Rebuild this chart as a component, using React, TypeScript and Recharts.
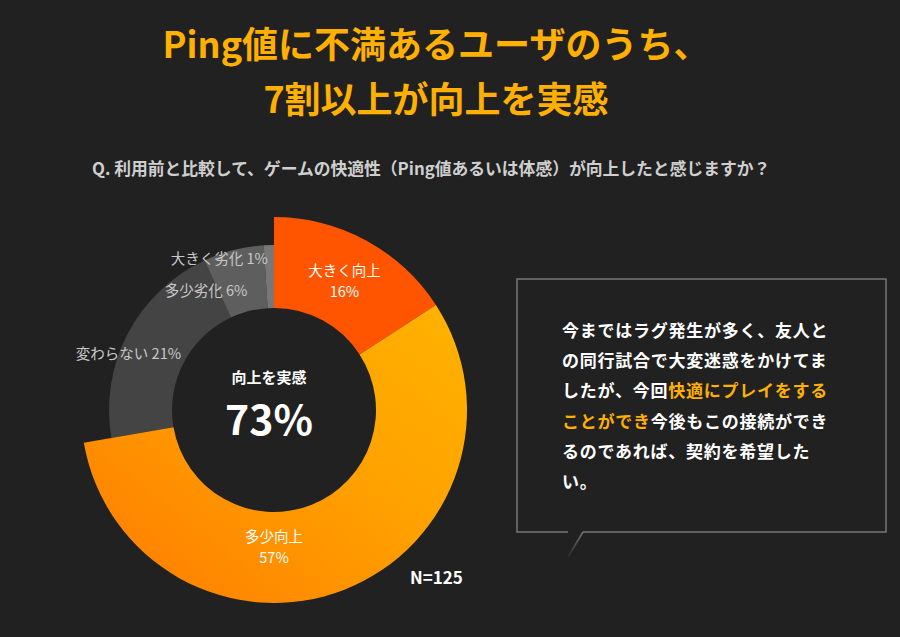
import React from 'react';
import { PieChart, Pie, Cell } from 'recharts';

// survey answers, clockwise from 12 o'clock
const categories = ['大きく向上', '多少向上', '変わらない', '多少劣化', '大きく劣化'];
const shares = [16, 57, 21, 6, 1];
const improved = [true, true, false, false, false];
const upColors = ['#ff5500', 'url(#upGrad)'];
const downColors = ['#444444', '#5e5e5e', '#777777'];

const titleLines = ['Ping値に不満あるユーザのうち、', '7割以上が向上を実感'];
const question = 'Q. 利用前と比較して、ゲームの快適性（Ping値あるいは体感）が向上したと感じますか？';
const improvedTotal = 73;
const sampleSize = 125;

const commentBefore = '今まではラグ発生が多く、友人との同行試合で大変迷惑をかけてましたが、今回';
const commentHighlight = '快適にプレイをすることができ';
const commentAfter = '今後もこの接続ができるのであれば、契約を希望したい。';

const data = categories.map((name, i) => ({ name, value: shares[i], up: improved[i] }));

const FONT = "'Noto Sans CJK JP', 'Noto Sans', sans-serif";
const RADIAN = Math.PI / 180;
const CX = 269;
const CY = 405;

const upLabel = (props: any) => {
  const { cx, cy, midAngle, innerRadius, outerRadius, index } = props;
  if (!improved[index]) return null;
  let r = (innerRadius + outerRadius) / 2;
  let ang = midAngle;
  // the big slice carries its label straight below the centre
  if (index === 1) {
    ang = -90;
    r = 136;
  }
  const x = cx + r * Math.cos(-ang * RADIAN);
  const y = cy + r * Math.sin(-ang * RADIAN);
  return (
    <text x={x} y={y} textAnchor="middle" fill="#fff" fontSize={14.5} fontFamily={FONT}>
      <tspan x={x} dy={-4}>{categories[index]}</tspan>
      <tspan x={x} dy={21}>{shares[index]}%</tspan>
    </text>
  );
};

// where the grey labels end: clockwise angle from 12 o'clock and radius
const downSpots: Record<number, [number, number]> = { 2: [300, 105], 3: [348, 118], 4: [358.4, 147] };

const downLabel = (props: any) => {
  const { cx, cy, index } = props;
  if (improved[index]) return null;
  const [a, r] = downSpots[index];
  const x = cx + r * Math.sin(a * RADIAN);
  const y = cy - r * Math.cos(a * RADIAN);
  return (
    <text x={x - 2} y={y + 1} textAnchor="end" fill="#c8c8c8" fontSize={14.5} fontFamily={FONT}>
      {categories[index]} {shares[index]}%
    </text>
  );
};

export default function App() {
  let upIdx = 0;
  let downIdx = 0;
  return (
    <div
      style={{
        position: 'fixed',
        left: 0,
        top: 0,
        width: 900,
        height: 637,
        background: '#212121',
        fontFamily: FONT,
        overflow: 'hidden',
      }}
    >
      {titleLines.map((t, i) => (
        <div
          key={t}
          style={{
            position: 'absolute',
            left: 0,
            width: 872,
            top: 22 + i * 55,
            textAlign: 'center',
            color: '#ffb000',
            fontSize: 36,
            fontWeight: 700,
            lineHeight: '40px',
          }}
        >
          {t}
        </div>
      ))}
      <div
        style={{
          position: 'absolute',
          left: 92,
          top: 156,
          color: '#cfcfcf',
          fontSize: 16.8,
          fontWeight: 700,
          lineHeight: '24px',
          whiteSpace: 'nowrap',
        }}
      >
        {question}
      </div>

      <div style={{ position: 'absolute', left: 0, top: 0 }}>
        <PieChart width={900} height={637}>
          <defs>
            <linearGradient id="upGrad" x1="1" y1="0" x2="0" y2="1">
              <stop offset="0%" stopColor="#ffb300" />
              <stop offset="45%" stopColor="#ffa000" />
              <stop offset="100%" stopColor="#ff7a00" />
            </linearGradient>
            <linearGradient id="tailGrad" x1="0" y1="0" x2="0" y2="1">
              <stop offset="0%" stopColor="#777" />
              <stop offset="100%" stopColor="#777" stopOpacity={0.1} />
            </linearGradient>
          </defs>
          <Pie
            data={data}
            dataKey="value"
            cx={CX}
            cy={CY}
            innerRadius={102}
            outerRadius={165}
            startAngle={90}
            endAngle={-270}
            stroke="none"
            label={downLabel}
            labelLine={false}
            isAnimationActive={false}
          >
            {data.map((d) => (
              <Cell key={d.name} fill={d.up ? 'transparent' : downColors[downIdx++]} />
            ))}
          </Pie>
          <Pie
            data={data}
            dataKey="value"
            cx={CX}
            cy={CY}
            innerRadius={102}
            outerRadius={193}
            startAngle={90}
            endAngle={-270}
            stroke="none"
            label={upLabel}
            labelLine={false}
            isAnimationActive={false}
          >
            {data.map((d) => (
              <Cell key={d.name} fill={d.up ? upColors[upIdx++] : 'transparent'} />
            ))}
          </Pie>
          <text x={CX} y={CY - 22} textAnchor="middle" fill="#fff" fontSize={15} fontWeight={700} fontFamily={FONT}>
            向上を実感
          </text>
          <text x={CX} y={CY + 30} textAnchor="middle" fill="#fff" fontSize={41} fontWeight={700} fontFamily={FONT}>
            {improvedTotal}%
          </text>
          <text x={410} y={584} fill="#fff" fontSize={17} fontWeight={700} fontFamily={FONT}>
            N={sampleSize}
          </text>
          {/* speech bubble */}
          <path
            d="M583 532 L886 532 L886 279 L517 279 L517 532 L568 532"
            fill="none"
            stroke="#777"
            strokeWidth={1.5}
          />
          <path d="M583 532 L568 557" stroke="url(#tailGrad)" strokeWidth={1.5} fill="none" />
        </PieChart>
      </div>

      <div
        style={{
          position: 'absolute',
          left: 562,
          top: 315,
          width: 275,
          color: '#fff',
          fontSize: 17,
          fontWeight: 700,
          lineHeight: '30.2px',
          letterSpacing: 0.75,
          wordBreak: 'break-all',
        }}
      >
        {commentBefore}
        <span style={{ color: '#ffb000' }}>{commentHighlight}</span>
        {commentAfter}
      </div>
    </div>
  );
}
